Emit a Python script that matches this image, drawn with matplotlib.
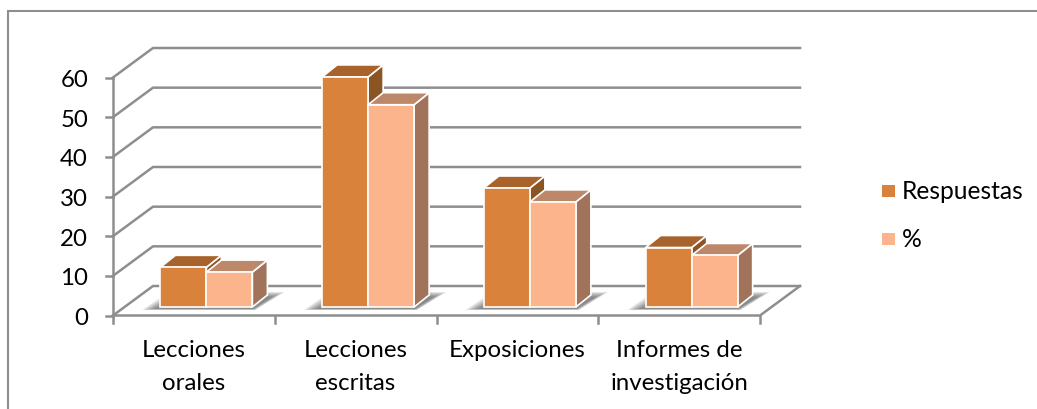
import matplotlib
matplotlib.use("Agg")
import matplotlib.pyplot as plt
from matplotlib.patches import Polygon, Rectangle

categories = ["Lecciones\norales", "Lecciones\nescritas", "Exposiciones", "Informes de\ninvestigación"]
respuestas = [10, 58, 30, 15]
porcentaje = [8.8, 51, 26.5, 13]
y_ticks = [0, 10, 20, 30, 40, 50, 60]

W, H = 1037, 410
GRAY = "#8e8e8e"
ORANGE = ("#d9823b", "#a8622b", "#8b5423")
PEACH = ("#fcb48c", "#bd876a", "#a0735a")
FS = 17.3

plt.rcParams["font.family"] = ["Lato", "DejaVu Sans"]

fig = plt.figure(figsize=(W / 100, H / 100), dpi=100)
# front of the floor runs x 113-760, y 316.5 up to 78.5 in picture pixels
ax = fig.add_axes([113 / W, 1 - 316.5 / H, (760 - 113) / W, (316.5 - 78.5) / H])
ax.set_xlim(0, len(categories))
ax.set_ylim(0, 60)
ax.patch.set_visible(False)
for s in ax.spines.values():
    s.set_visible(False)
ax.set_xticks([])
ax.set_yticks([])

ux = len(categories) / (760 - 113)  # data per pixel
uy = 60 / (316.5 - 78.5)


def poly(pts, **kw):
    ax.add_patch(Polygon(pts, closed=True, clip_on=False, **kw))


def line(xs, ys, lw=1.8, z=1):
    ax.plot(xs, ys, color=GRAY, lw=lw, clip_on=False, zorder=z, solid_capstyle="projecting")


# walls and floor
dx, dy = 40 * ux, 29.5 * uy
for v in y_ticks:
    line([0, dx, len(categories) + dx], [v, v + dy, v + dy])
    line([-7 * ux, 0], [v, v])
line([0, 0], [0, 60])
line([0, len(categories), len(categories) + dx], [0, 0, dy])
for i in range(len(categories) + 1):
    line([i, i], [0, -7 * uy])

# bars
bar_w = 46 * ux
start = 0.293
base = 8.5 * uy
bx, by = 15 * ux, 12 * uy

for i in range(len(categories)):
    x0 = i + start
    x2 = x0 + 2 * bar_w
    # soft shadow on the floor
    for k in range(6):
        g = k * 2.4
        poly([(x0 - (18 - g) * ux, base - (3 - g * 0.1) * uy), (x2 + (3 - g * 0.2) * ux, base - (3 - g * 0.1) * uy),
              (x2 + (32 - g) * ux, base + (15 - g * 0.4) * uy), (x0 + (8 + g) * ux, base + (15 - g * 0.4) * uy)],
             fc="#444444", ec="none", alpha=0.15, zorder=2)
    for j, (vals, cols) in enumerate(((respuestas, ORANGE), (porcentaje, PEACH))):
        x = x0 + j * bar_w
        top = base + vals[i]
        poly([(x + bar_w, base), (x + bar_w + bx, base + by), (x + bar_w + bx, top + by), (x + bar_w, top)],
             fc=cols[2], ec="white", lw=1.2, zorder=3 + j)
        poly([(x, top), (x + bx, top + by), (x + bar_w + bx, top + by), (x + bar_w, top)],
             fc=cols[1], ec="white", lw=1.2, zorder=3 + j)
        ax.add_patch(Rectangle((x, base), bar_w, vals[i], fc=cols[0], ec="white", lw=1.2,
                               clip_on=False, zorder=3 + j))

# tick labels
for v in y_ticks:
    ax.annotate(str(v), (0, v), xytext=(-25, -2), textcoords="offset pixels",
                ha="right", va="center", fontsize=FS, color="black", annotation_clip=False)
for i, c in enumerate(categories):
    ax.annotate(c, (i + 0.5, 0), xytext=(0, -24), textcoords="offset pixels", ha="center", va="top",
                fontsize=FS, color="black", linespacing=1.66, annotation_clip=False)

# legend and frame drawn in figure pixels
fig.add_artist(Rectangle((882 / W, 1 - 198 / H), 13 / W, 12 / H, fc=ORANGE[0], ec="none"))
fig.add_artist(Rectangle((882 / W, 1 - 246 / H), 13 / W, 12 / H, fc=PEACH[0], ec="none"))
fig.text(902 / W, 1 - 192 / H, "Respuestas", fontsize=FS + 0.4, va="center")
fig.text(902 / W, 1 - 240 / H, "%", fontsize=FS + 0.4, va="center")
fig.add_artist(Rectangle((8 / W, -0.1), 1.2, 1 - 12 / H + 0.1, fc="none", ec=GRAY, lw=1.5))

fig.savefig("out.png", dpi=100)
